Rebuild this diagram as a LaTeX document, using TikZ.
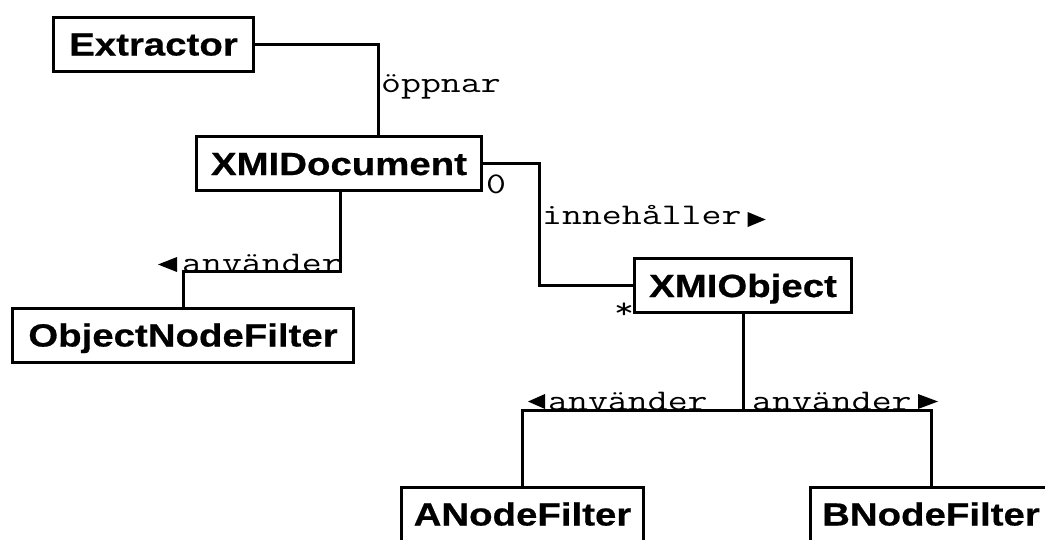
\documentclass[tikz,border=0pt]{standalone}
\usepackage{fontspec}
\usetikzlibrary{calc}
\newfontfamily\boxfont{Liberation Sans Bold}[FakeStretch=1.2, FakeBold=0.6]
\newfontfamily\lblfont{Latin Modern Mono}[FakeStretch=1.29]
\begin{document}
\begin{tikzpicture}[x=1pt,y=-1pt,
  cls/.style={draw, line width=3pt, fill=white, inner sep=0pt,
    minimum height=54pt, text height=23pt, text depth=0pt,
    font=\boxfont\fontsize{32}{32}\selectfont},
  conn/.style={line width=3pt},
  lbl/.style={inner sep=0pt, font=\lblfont\fontsize{30}{30}\selectfont}]
\useasboundingbox (0,0) rectangle (1045,539);
\clip (0,0) rectangle (1045,539);

% classes
\node[cls, minimum width=200pt] (ext)    at (153.5,44)  {Extractor};
\node[cls, minimum width=285pt] (xmidoc) at (339,163.5) {XMIDocument};
\node[cls, minimum width=217pt] (xmiobj) at (743,285.5) {XMIObject};
\node[cls, minimum width=341pt] (onf)    at (183,335)   {ObjectNodeFilter};
\node[cls, minimum width=242pt] (anf)    at (522.5,514) {ANodeFilter};
\node[cls, minimum width=242pt] (bnf)    at (931,514)   {BNodeFilter};

% associations
\draw[conn] (ext.east) -| ([xshift=39pt]xmidoc.north);
\draw[conn] (xmidoc.east) -- ++(56.5,0) |- (xmiobj.west);
\draw[conn] ([xshift=1pt]xmidoc.south) -- ++(0,79.5) -| (onf.north);
\draw[conn] (xmiobj.south) -- ++(0,96.5) -| (anf.north);
\draw[conn] (xmiobj.south) -- ++(0,96.5) -| (bnf.north);

% association names and multiplicities
\node[lbl, anchor=base west] (l1) at (381,92)  {öppnar};
\node[lbl, anchor=base west] (m0) at (486,193) {0};
\node[lbl, anchor=base west] (l2) at (542,224) {innehåller};
\node[lbl, anchor=base west] (ms) at (614,318) {*};
\node[lbl, anchor=base west] (l3) at (182,272) {använder};
\node[lbl, anchor=base west] (l4) at (548,410) {använder};
\node[lbl, anchor=base west] (l5) at (752,410) {använder};

% reading-direction triangles
\fill ($(l2.base east)+(6,-12)$) -- ++(18,7.5) -- ++(-18,7.5) -- cycle;
\fill ($(l3.base west)+(-5,-15)$) -- ++(-19,7.5) -- ++(19,7.5) -- cycle;
\fill ($(l4.base west)+(-3,-16)$) -- ++(-17,7.5) -- ++(17,7.5) -- cycle;
\fill ($(bnf.north |- l5.base)+(-13,-16)$) -- ++(20,7.5) -- ++(-20,7.5) -- cycle;
\end{tikzpicture}
\end{document}
